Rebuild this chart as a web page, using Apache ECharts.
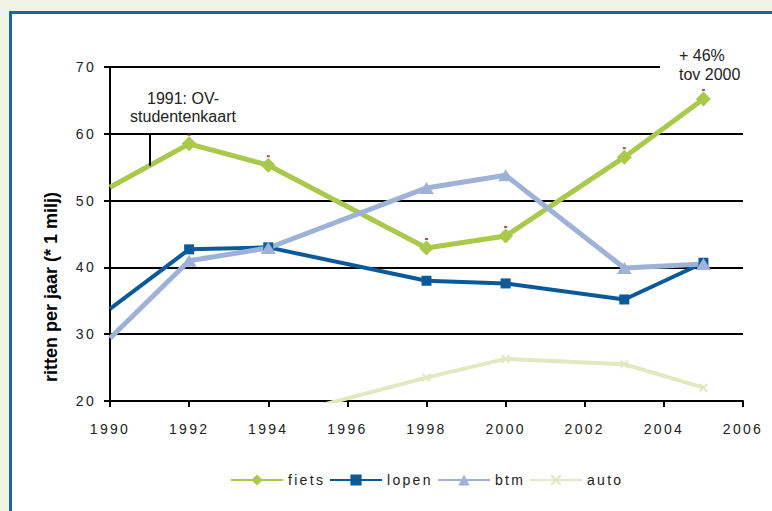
<!DOCTYPE html>
<html>
<head>
<meta charset="utf-8">
<script src="https://cdn.jsdelivr.net/npm/echarts@6/dist/echarts.min.js"></script>
<style>
  html, body { margin: 0; padding: 0; background: #f1f3e2; width: 772px; height: 511px; overflow: hidden; }
  #frame { position: absolute; left: 9px; top: 11px; width: 800px; height: 540px; background: #fff;
           border-left: 3px solid #1d63a6; border-top: 3px solid #1d63a6; }
  #chart { position: absolute; left: 0; top: 0; width: 772px; height: 511px; }
  text[style*="SpacedX"] { letter-spacing: 2.3px; }
  text[font-family*="SpacedX"] { letter-spacing: 2.3px; }
</style>
</head>
<body>
<div id="frame"></div>
<div id="chart"></div>
<script>
// ---- data ----
var years = [1990, 1992, 1994, 1998, 2000, 2003, 2005];
var fiets = [52.0, 58.5, 55.3, 42.9, 44.7, 56.5, 65.2];
var lopen = [33.8, 42.7, 43.0, 38.0, 37.6, 35.2, 40.7];
var btm   = [29.4, 41.0, 42.9, 51.9, 53.8, 39.9, 40.5];
var auto  = [null, null, 17.3, 23.5, 26.3, 25.5, 22.0];
var seriesNames = ['fiets', 'lopen', 'btm', 'auto'];
var xTicks = { min: 1990, max: 2006, interval: 2 };
var yTicks = { min: 20, max: 70, interval: 10 };
var annotation1991 = { year: 1991, from: 60, to: 55.2, text: '1991: OV-\nstudentenkaart' };
var annotation2005 = { text: '+ 46%\ntov 2000' };

// ---- styling ----
var colors = { fiets: '#a9c94a', lopen: '#0a5a9b', btm: '#9db2d6', auto: '#e0e9bf' };
var spacedFont = 'Liberation Sans, SpacedX, sans-serif';
var plainFont = 'Liberation Sans, Arial, sans-serif';
var xMark = 'path://M0,1.5L1.5,0L5,3.5L8.5,0L10,1.5L6.5,5L10,8.5L8.5,10L5,6.5L1.5,10L0,8.5L3.5,5Z';

// first point (1990 edge) drawn without a marker
function items(arr) {
  return years.map(function (y, i) {
    var it = { value: [y, arr[i]] };
    if (i === 0) it.symbol = 'none';
    return it;
  });
}

var chart = echarts.init(document.getElementById('chart'), null, { renderer: 'svg' });

var legendLefts = [230, 329, 437, 529];

var option = {
  backgroundColor: 'transparent',
  animation: false,
  grid: { left: 110, right: 29, top: 67, bottom: 110 },
  xAxis: {
    type: 'value', min: xTicks.min, max: xTicks.max, interval: xTicks.interval,
    axisLine: { show: true, onZero: false, lineStyle: { color: '#000', width: 2 } },
    axisTick: { show: true, length: 6, lineStyle: { color: '#000', width: 2 } },
    axisLabel: { margin: 21, fontSize: 14, color: '#222', fontFamily: spacedFont,
                 formatter: function (v) { return String(v); } },
    splitLine: { show: false }
  },
  yAxis: {
    type: 'value', min: yTicks.min, max: yTicks.max, interval: yTicks.interval,
    axisLine: { show: true, lineStyle: { color: '#000', width: 2 } },
    axisTick: { show: true, length: 6, lineStyle: { color: '#000', width: 2 } },
    axisLabel: { margin: 14, fontSize: 14, color: '#222', fontFamily: spacedFont },
    splitLine: { show: true, lineStyle: { color: '#000', width: 2 } }
  },
  legend: seriesNames.map(function (n, i) {
    return {
      data: [n], left: legendLefts[i], top: 473, itemWidth: 52, itemHeight: 14,
      textStyle: { fontSize: 14, color: '#222', fontFamily: spacedFont },
      padding: 0
    };
  }),
  graphic: [
    {
      type: 'text', z: 100, x: 183, y: 107,
      style: { text: annotation1991.text, fill: '#222', font: '16px ' + plainFont,
               align: 'center', verticalAlign: 'middle', lineHeight: 18 }
    },
    { type: 'rect', z: 99, shape: { x: 660, y: 44, width: 100, height: 42 }, style: { fill: '#fff' } },
    {
      type: 'text', z: 100, x: 679, y: 65,
      style: { text: annotation2005.text, fill: '#222', font: '16px ' + plainFont,
               align: 'left', verticalAlign: 'middle', lineHeight: 19 }
    },
    {
      type: 'text', z: 100, x: 51, y: 287, rotation: Math.PI / 2,
      style: { text: 'ritten per jaar (* 1 milj)', fill: '#000', font: 'bold 18px ' + plainFont,
               align: 'center', verticalAlign: 'middle' }
    }
  ],
  series: [
    {
      name: 'fiets', type: 'line', data: items(fiets), color: colors.fiets,
      symbol: 'diamond', symbolSize: 15, lineStyle: { width: 5 },
      itemStyle: { color: colors.fiets },
      markLine: {
        silent: true, symbol: 'none', label: { show: false },
        lineStyle: { color: '#000', width: 2, type: 'solid' },
        data: [[{ coord: [annotation1991.year, annotation1991.from] },
                { coord: [annotation1991.year, annotation1991.to] }]]
      }
    },
    {
      name: 'fiets-tick', type: 'scatter', data: items(fiets).slice(1),
      symbol: 'rect', symbolSize: [3, 2], symbolOffset: [0, -9],
      itemStyle: { color: '#a3202c' }, silent: true, z: 3
    },
    {
      name: 'lopen', type: 'line', data: items(lopen), color: colors.lopen,
      symbol: 'rect', symbolSize: 10, lineStyle: { width: 4 },
      itemStyle: { color: colors.lopen }
    },
    {
      name: 'btm', type: 'line', data: items(btm), color: colors.btm,
      symbol: 'triangle', symbolSize: [15, 12], lineStyle: { width: 5 },
      itemStyle: { color: colors.btm }
    },
    {
      name: 'auto', type: 'line', data: items(auto), color: colors.auto,
      symbol: xMark, symbolSize: 9, lineStyle: { width: 4 },
      itemStyle: { color: colors.auto }, connectNulls: false
    }
  ]
};
chart.setOption(option);
</script>
</body>
</html>
